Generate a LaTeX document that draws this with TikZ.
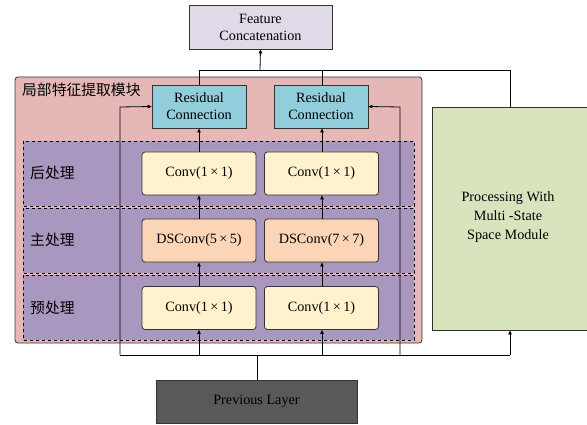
\documentclass[tikz,border=0pt]{standalone}
\usepackage{fontspec}
\setmainfont{Liberation Serif}
\newfontfamily\cjk{Noto Sans CJK SC}
\usetikzlibrary{arrows.meta}

\definecolor{pinkbg}{RGB}{229,184,183}
\definecolor{bandbg}{RGB}{168,152,192}
\definecolor{resbg}{RGB}{146,205,220}
\definecolor{convbg}{RGB}{255,242,204}
\definecolor{dsbg}{RGB}{251,213,181}
\definecolor{greenbg}{RGB}{215,228,189}
\definecolor{featbg}{RGB}{224,218,232}
\definecolor{prevbg}{RGB}{89,89,89}

\tikzset{
  box/.style={draw=black!80, line width=0.8pt, align=center, inner sep=0pt,
    font=\fontsize{14.2}{17}\selectfont},
  convbox/.style={box, fill=convbg, rounded corners=3pt, minimum width=114pt, minimum height=43pt},
  dsbox/.style={box, fill=dsbg, rounded corners=3pt, minimum width=114pt, minimum height=43pt},
  resbox/.style={box, fill=resbg, minimum width=94pt, minimum height=43pt},
  band/.style={draw=black, dashed, line width=0.7pt, fill=bandbg},
  cnlabel/.style={font=\cjk\fontsize{14.8}{17}\selectfont, anchor=west, inner sep=0pt},
  link/.style={line width=0.8pt, draw=black},
  arr/.style={link, -{Triangle[length=4pt,width=3.5pt]}}
}

\begin{document}
\begin{tikzpicture}[x=1pt, y=-1pt]
\useasboundingbox (0,0) rectangle (587,425);
\clip (0,0) rectangle (587,425);

% outer local-feature block
\draw[fill=pinkbg, draw=black!80, line width=0.8pt, rounded corners=3pt]
  (15,77) rectangle (422,343);
\node[cnlabel] (title) at (22,90) {局部特征提取模块};

% three processing stages
\draw[band] (23,141) rectangle (414,206);
\draw[band] (23,208) rectangle (414,273);
\draw[band] (23,275) rectangle (414,340);
\node[cnlabel] (post) at (30,173) {后处理};
\node[cnlabel] (main) at (30,240) {主处理};
\node[cnlabel] (pre)  at (30,308) {预处理};

% top and bottom blocks
\node[box, fill=featbg, minimum width=143pt, minimum height=44pt] (feat) at (260.5,27)
  {Feature\\Concatenation};
\node[box, fill=prevbg, minimum width=201pt, minimum height=43pt] (prev) at (256.5,401.5)
  {Previous Layer};
\node[box, fill=greenbg, minimum width=155pt, minimum height=223pt] (mss) at (510,218.5) {};
\node[font=\fontsize{14.2}{19}\selectfont, align=center] (msstext) at (508,217)
  {Processing With\\Multi -State\\Space Module};

% residual connections
\node[resbox] (resL) at (199,106.5) {Residual\\Connection};
\node[resbox] (resR) at (321,106.5) {Residual\\Connection};

% convolution columns
\node[convbox] (postL) at (199,173.5) {Conv(1\,×\,1)};
\node[convbox] (postR) at (321.5,173.5) {Conv(1\,×\,1)};
\node[dsbox]   (mainL) at (199,240.5) {DSConv(5\,×\,5)};
\node[dsbox]   (mainR) at (321.5,240.5) {DSConv(7\,×\,7)};
\node[convbox] (preL)  at (199,308) {Conv(1\,×\,1)};
\node[convbox] (preR)  at (321.5,308) {Conv(1\,×\,1)};

% branching points
\coordinate (split) at (257,355);
\coordinate (merge) at (260,70);

% input distribution from the previous layer
\draw[link] (prev.north -| split) -- (split);
\draw[link] (120,355) -- (510,355);
\draw[arr] (199,355) -- (preL.south);
\draw[arr] (322,355) -- (preR.south -| 322,0);
\draw[arr] (510,355) -- (mss.south);

% skip paths into the residual connections
\draw[arr] (120,355) -- (120,107) -- (resL.west);
\draw[arr] (400,355) -- (400,107) -- (resR.east);

% stage-to-stage flow
\draw[arr] (preL.north) -- (mainL.south);
\draw[arr] (mainL.north) -- (postL.south);
\draw[arr] (postL.north) -- (resL.south);
\draw[arr] (preR.north -| 322,0) -- (mainR.south -| 322,0);
\draw[arr] (mainR.north -| 322,0) -- (postR.south -| 322,0);
\draw[arr] (postR.north -| 322,0) -- (resR.south -| 322,0);

% outputs gathered into the concatenation
\draw[link] (resL.north) -- (199,70) -- (510,70) -- (mss.north);
\draw[link] (resR.north -| 322,0) -- (322,70);
\draw[arr] (merge) -- (feat.south);
\end{tikzpicture}
\end{document}
